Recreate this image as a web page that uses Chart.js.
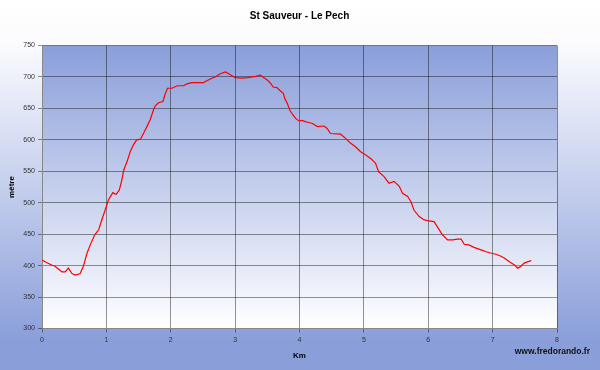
<!DOCTYPE html>
<html>
<head>
<meta charset="utf-8">
<script src="https://cdn.jsdelivr.net/npm/chart.js@4"></script>
<style>
  html, body { margin: 0; padding: 0; background: #fff; }
  #wrap { width: 600px; height: 370px; position: relative; }
</style>
</head>
<body>
<div id="wrap"><canvas id="c" width="600" height="370"></canvas></div>
<script>
const chartTitle = "St Sauveur - Le Pech";
const xTitle = "Km";
const yTitle = "mètre";
const watermark = "www.fredorando.fr";

const km = [0.00,0.07,0.15,0.20,0.25,0.31,0.36,0.41,0.46,0.51,0.59,0.64,0.70,0.75,0.82,0.88,0.93,0.98,1.03,1.10,1.15,1.20,1.24,1.27,1.32,1.37,1.42,1.47,1.53,1.58,1.63,1.68,1.73,1.76,1.81,1.88,1.91,1.95,2.02,2.10,2.20,2.25,2.33,2.51,2.56,2.64,2.69,2.77,2.85,2.87,2.93,3.00,3.11,3.19,3.32,3.39,3.44,3.50,3.55,3.59,3.65,3.70,3.75,3.77,3.81,3.85,3.89,3.94,3.99,4.04,4.09,4.13,4.20,4.28,4.38,4.43,4.48,4.64,4.72,4.79,4.87,4.95,5.03,5.11,5.16,5.18,5.23,5.31,5.39,5.47,5.55,5.60,5.68,5.73,5.78,5.86,5.93,6.01,6.09,6.14,6.22,6.30,6.38,6.45,6.51,6.56,6.63,6.71,6.82,6.90,6.97,7.05,7.13,7.18,7.26,7.34,7.39,7.44,7.49,7.54,7.60];
const altitude = [409,405,401,399,395,390,390,396,388,385,387,398,420,433,449,457,473,488,504,516,513,520,536,552,565,581,592,600,601,611,621,632,647,654,659,661,672,682,682,686,686,689,691,691,694,698,700,705,708,707,703,699,698,699,701,703,699,695,690,684,683,678,674,666,658,647,641,634,630,631,629,628,626,621,622,618,610,609,602,595,589,581,576,570,565,563,549,542,531,534,526,515,510,502,488,478,473,471,470,462,449,441,441,442,442,434,433,429,425,422,420,418,415,412,406,401,396,399,404,406,408];

const xMin = 0, xMax = 8, xStep = 1;
const yMin = 300, yMax = 750, yStep = 50;

const points = km.map((k, i) => ({ x: k, y: altitude[i] }));

const FONT = '"Liberation Sans", Arial, sans-serif';
const BLUE = 'rgb(138,158,218)';

const bgPlugin = {
  id: 'bgPlugin',
  beforeDraw(chart) {
    const ctx = chart.ctx;
    const w = chart.width, h = chart.height;
    ctx.save();
    const g = ctx.createLinearGradient(0, 0, 0, h);
    g.addColorStop(0, '#ffffff');
    g.addColorStop(0.12, '#fbfbfe');
    g.addColorStop(0.92, BLUE);
    g.addColorStop(1, BLUE);
    ctx.fillStyle = g;
    ctx.fillRect(0, 0, w, h);
    const a = chart.chartArea;
    const g2 = ctx.createLinearGradient(0, a.top, 0, a.bottom);
    g2.addColorStop(0, BLUE);
    g2.addColorStop(1, '#ffffff');
    ctx.fillStyle = g2;
    ctx.fillRect(a.left, a.top, a.right - a.left, a.bottom - a.top);
    ctx.restore();
  },
  afterDraw(chart) {
    const ctx = chart.ctx;
    ctx.save();
    ctx.font = 'bold 8.5px ' + FONT;
    ctx.fillStyle = '#111';
    ctx.textAlign = 'right';
    ctx.textBaseline = 'middle';
    ctx.fillText(watermark, 590, 352);
    ctx.restore();
  }
};

new Chart(document.getElementById('c'), {
  type: 'line',
  data: {
    datasets: [{
      data: points,
      borderColor: '#ff0000',
      borderWidth: 1.2,
      pointRadius: 0,
      tension: 0,
      fill: false
    }]
  },
  options: {
    responsive: false,
    animation: false,
    devicePixelRatio: 1,
    layout: { padding: { left: 0, right: 43, top: 0, bottom: 0 } },
    plugins: {
      legend: { display: false },
      tooltip: { enabled: false },
      title: {
        display: true,
        fullSize: false,
        text: chartTitle,
        color: '#000',
        font: { family: FONT, size: 10, weight: 'bold' },
        padding: { top: 10, bottom: 23.5 }
      }
    },
    scales: {
      x: {
        type: 'linear',
        min: xMin, max: xMax,
        ticks: { stepSize: xStep, color: '#333', font: { family: FONT, size: 7 }, padding: 3 },
        grid: { color: 'rgba(0,0,0,0.42)', lineWidth: 1, tickLength: 4 },
        border: { color: '#888', width: 1 },
        title: { display: true, text: xTitle, color: '#000', font: { family: FONT, size: 8, weight: 'bold' }, padding: { top: 2, bottom: 9 } },
        afterFit(s) { s.height = 41.5; }
      },
      y: {
        min: yMin, max: yMax,
        ticks: { stepSize: yStep, color: '#333', font: { family: FONT, size: 7 }, padding: 3 },
        grid: { color: 'rgba(0,0,0,0.42)', lineWidth: 1, tickLength: 4 },
        border: { color: '#888', width: 1 },
        title: { display: true, text: yTitle, color: '#000', font: { family: FONT, size: 8, weight: 'bold' }, padding: { top: 7, bottom: 2 } },
        afterFit(s) { s.width = 42; }
      }
    }
  },
  plugins: [bgPlugin]
});
</script>
</body>
</html>
